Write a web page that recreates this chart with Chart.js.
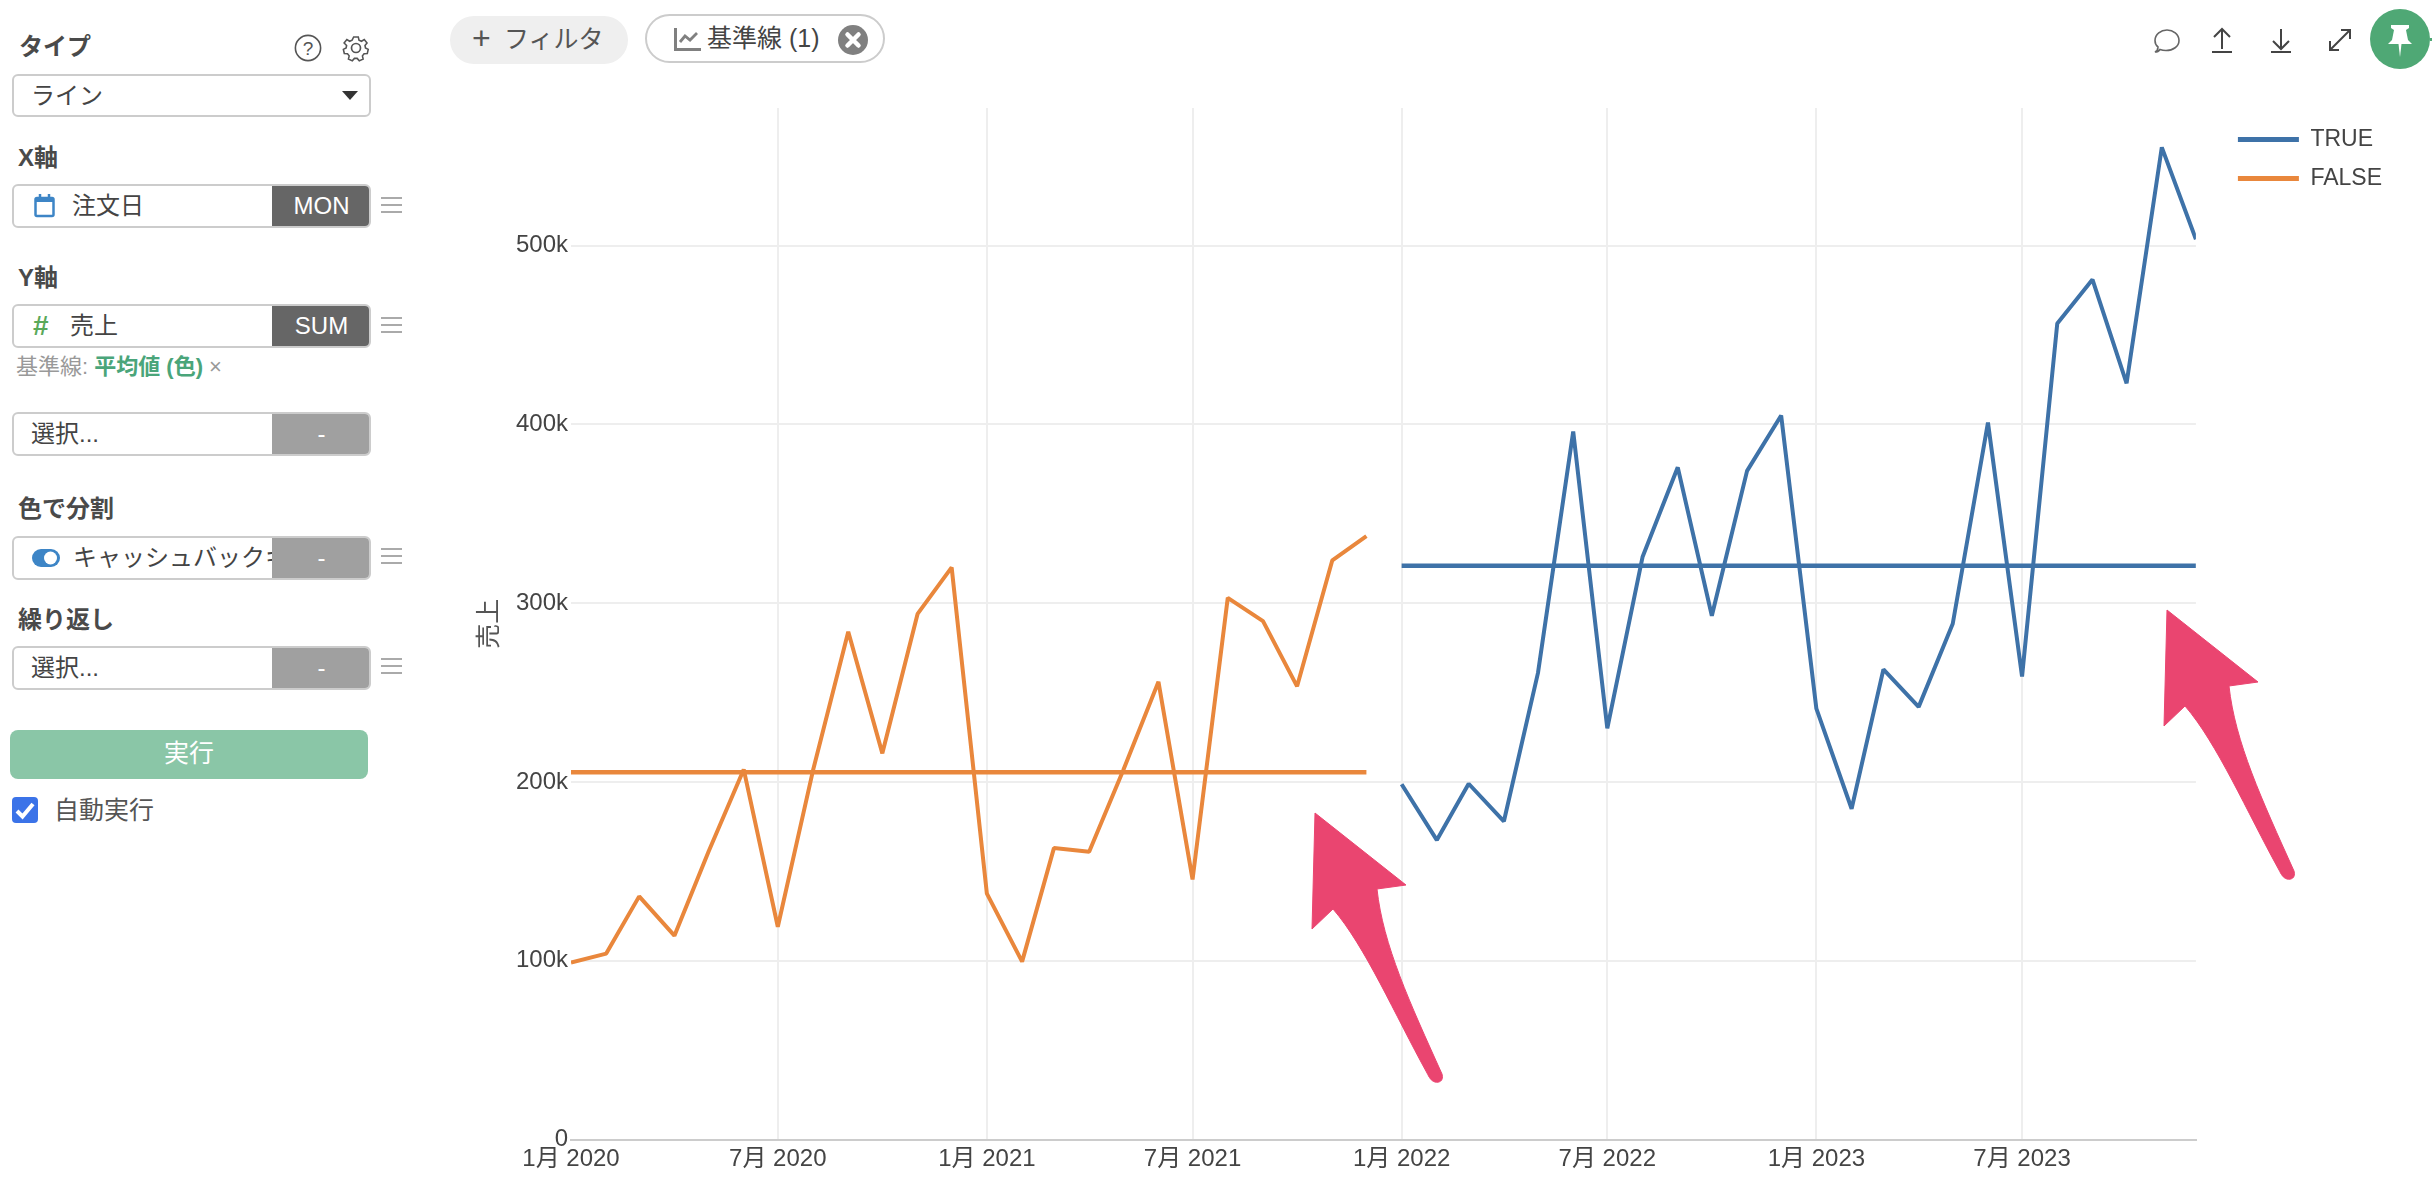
<!DOCTYPE html>
<html lang="ja">
<head>
<meta charset="UTF-8">
<script src="https://cdn.jsdelivr.net/npm/chart.js@4"></script>
<style>
  html, body { margin: 0; background: #fff; overflow: hidden; }
  body { width: 2432px; height: 1184px; position: relative; color: #444;
         font-family: "Liberation Sans", "Noto Sans CJK JP", sans-serif; }
  .abs, .lbl, .field, .lines, .pill { position: absolute; }
  .lbl { left: 18px; font-size: 24px; font-weight: bold; line-height: 30px; color: #4a4a4a; }
  .field { left: 12px; width: 355px; height: 40px; border: 2px solid #ccc; border-radius: 6px; background: #fff;
           font-size: 24px; line-height: 40px; overflow: hidden; }
  .field .name { position: absolute; top: 0; white-space: nowrap; }
  .field .tag { position: absolute; right: -2px; top: -2px; width: 99px; height: 44px; line-height: 44px;
                text-align: center; color: #fff; font-size: 24px; background: #666; }
  .field .tag.off { background: #a0a0a0; }
  .lines { left: 381px; width: 21px; height: 12px; border-top: 2px solid #aaa; border-bottom: 2px solid #aaa; }
  .lines::after { content: ""; position: absolute; left: 0; right: 0; top: 5px; height: 2px; background: #aaa; }
  .pill { box-sizing: border-box; border-radius: 25px; font-size: 25px; white-space: nowrap; }
  #chartBox { position: absolute; left: 460px; top: 90px; }
  svg.abs { overflow: visible; }
</style>
</head>
<body>

<!-- left panel -->
<div class="lbl" style="top:32px;left:19px">タイプ</div>
<svg class="abs" style="left:294px;top:34px" width="28" height="28" fill="none" stroke="#555" stroke-width="1.6"><circle cx="14" cy="14" r="12.6"/><text x="14" y="21" font-size="19" text-anchor="middle" fill="#555" stroke="none">?</text></svg>
<svg class="abs" style="left:342px;top:34px" width="28" height="28" fill="none" stroke="#555" stroke-width="1.7"><circle cx="14" cy="14" r="4.5"/><path d="M11.500 2h5l.8 3.500 2.700 1.200 3-1.800 3 3.700-2.200 2.700.5 2.700 3 1.500-1 4.500-3.500.3-1.800 2.300.8 3.400-4.200 2-2.300-2.700h-3l-2.300 2.700-4.200-2 .8-3.400-1.800-2.300-3.500-.3-1-4.500 3-1.500.5-2.700L1.100 8.600l3-3.700 3 1.800 2.700-1.200z" transform="translate(1.100 1.100) scale(.92)"/></svg>

<div class="field" style="top:74px;height:39px;line-height:39px"><span class="name" style="left:17px">ライン</span></div>
<svg class="abs" style="left:342px;top:91px" width="16" height="9"><path d="M0 0h16L8 9z" fill="#333"/></svg>

<div class="lbl" style="top:143px">X軸</div>
<div class="field" style="top:184px"><svg class="abs" style="left:20px;top:8px" width="21" height="24" fill="none" stroke="#3d85c6" stroke-width="2.500"><rect x="1.500" y="4" width="18" height="18" rx="1.500"/><path d="M1.500 6h18" stroke-width="4"/><path d="M6 0v4M15 0v4"/></svg><span class="name" style="left:58px">注文日</span><div class="tag">MON</div></div>
<div class="lines" style="top:197px"></div>

<div class="lbl" style="top:263px">Y軸</div>
<div class="field" style="top:304px"><span class="name" style="left:19px;color:#5aa95a;font-weight:bold;font-size:28px">#</span><span class="name" style="left:56px">売上</span><div class="tag">SUM</div></div>
<div class="lines" style="top:317px"></div>
<div class="abs" style="left:16px;top:352px;font-size:22px;line-height:30px;color:#999;white-space:nowrap">基準線: <b style="color:#4aa57a">平均値 (色)</b> ×</div>

<div class="field" style="top:412px"><span class="name" style="left:17px">選択...</span><div class="tag off">-</div></div>

<div class="lbl" style="top:494px">色で分割</div>
<div class="field" style="top:536px"><svg class="abs" style="left:18px;top:11px" width="28" height="18"><rect width="28" height="18" rx="9" fill="#3d85c6"/><circle cx="18.500" cy="9" r="6.500" fill="#fff"/></svg><span class="name" style="left:59px">キャッシュバックキャンペーン</span><div class="tag off">-</div></div>
<div class="lines" style="top:548px"></div>

<div class="lbl" style="top:605px">繰り返し</div>
<div class="field" style="top:646px"><span class="name" style="left:17px">選択...</span><div class="tag off">-</div></div>
<div class="lines" style="top:658px"></div>

<div class="abs" style="left:10px;top:730px;width:358px;height:49px;line-height:47px;background:#8ac6a7;border-radius:8px;color:#fff;text-align:center;font-size:25px">実行</div>
<svg class="abs" style="left:12px;top:797px" width="26" height="26"><rect width="26" height="26" rx="4" fill="#3b73e8"/><path d="M5 14l5.500 5.500L21 7" fill="none" stroke="#fff" stroke-width="4"/></svg>
<div class="abs" style="left:54px;top:795px;font-size:25px;line-height:30px;color:#555">自動実行</div>

<!-- top bar -->
<div class="pill" style="left:450px;top:16px;width:178px;height:48px;line-height:47px;background:#efefef;color:#555"><span class="abs" style="left:22px;top:-1px;font-size:32px">+</span><span class="abs" style="left:54px;top:0">フィルタ</span></div>
<div class="pill" style="left:645px;top:14px;width:240px;height:49px;line-height:45px;border:2px solid #ccc;padding-left:60px;color:#444">基準線 (1)</div>
<svg class="abs" style="left:674px;top:28px" width="27" height="23" fill="none" stroke="#808080" stroke-width="3"><path d="M1.500 0v21.500H27"/><path d="M6 14l5-6 5 4 7-7" stroke-width="2.800"/></svg>
<svg class="abs" style="left:838px;top:25px" width="30" height="30"><circle cx="15" cy="15" r="15" fill="#808080"/><path d="M9.500 9.500l11 11M20.500 9.500l-11 11" stroke="#fff" stroke-width="4.500" stroke-linecap="round"/></svg>

<!-- right toolbar -->
<svg class="abs" style="left:2152px;top:28px" width="30" height="26" fill="none" stroke="#666" stroke-width="1.600"><path d="M3 24c3 0 4-1 5-2.500 2 .7 4 1 6 1 7 0 13-4 13-10C27 6 21 2 15 2S3 6 3 12.500c0 3 1 5 3 6.500 0 2-1 4-3 5z"/></svg>
<svg class="abs" style="left:2212px;top:28px" width="20" height="26" fill="none" stroke="#444" stroke-width="2"><path d="M10 1v20M2 9l8-8 8 8M0 24h20"/></svg>
<svg class="abs" style="left:2271px;top:28px" width="20" height="26" fill="none" stroke="#444" stroke-width="2"><path d="M10 1v20M2 13l8 8 8-8M0 24h20"/></svg>
<svg class="abs" style="left:2328px;top:28px" width="24" height="24" fill="none" stroke="#444" stroke-width="2"><path d="M2 22L22 2M13 2h9v9M2 13v9h9"/></svg>
<svg class="abs" style="left:2370px;top:9px" width="62" height="60"><circle cx="30" cy="30" r="30" fill="#4fa875"/><path d="M21 16h18v3l-3 2 2 10 4 4H18l4-4 2-10-3-2z" fill="#fff"/><path d="M28.500 35h3l-1.500 13z" fill="#fff"/><rect x="60" y="29" width="2" height="3" fill="#4fa875"/></svg>

<!-- chart -->
<div id="chartBox"><canvas id="salesChart" width="1972" height="1094"></canvas></div>

<!-- hand drawn arrows on top of the chart -->
<svg class="abs" style="left:0;top:0" width="2432" height="1184">
  <defs>
    <path id="arrow" fill="#EA4570" stroke="#EA4570" stroke-width="1" d="M1315 813L1406 885L1377 889C1383 945 1410 1003 1442 1074C1444 1081 1439 1083 1435 1082C1431 1081 1429 1077 1427 1073C1395 1015 1365 946 1333 909L1312 929Z"/>
  </defs>
  <use href="#arrow"/>
  <use href="#arrow" x="852" y="-203"/>
</svg>

<script>
const seriesNames = ['TRUE', 'FALSE'];
const seriesColors = ['#3E72A8', '#E9873C'];
const monthsFalse = ['2020-01','2020-02','2020-03','2020-04','2020-05','2020-06','2020-07','2020-08','2020-09','2020-10','2020-11','2020-12',
                     '2021-01','2021-02','2021-03','2021-04','2021-05','2021-06','2021-07','2021-08','2021-09','2021-10','2021-11','2021-12'];
const monthsTrue = ['2022-01','2022-02','2022-03','2022-04','2022-05','2022-06','2022-07','2022-08','2022-09','2022-10','2022-11','2022-12',
                    '2023-01','2023-02','2023-03','2023-04','2023-05','2023-06','2023-07','2023-08','2023-09','2023-10','2023-11','2023-12'];
const salesFalse = [99000,104000,136000,114000,161000,207000,119000,206500,284000,216000,294000,320000,
                    137500,99500,163000,161000,206500,256000,145500,303000,290000,253500,324000,337500];
const salesTrue = [198700,167500,199000,178000,261000,396000,230000,325800,376000,293000,374000,405000,
                   241000,185000,263000,242000,288500,401000,259000,456500,481000,423000,555000,503600];
const averageFalse = 205500;
const averageTrue = 321000;
const xTickMonths = ['2020-01','2020-07','2021-01','2021-07','2022-01','2022-07','2023-01','2023-07'];
const yTicks = [0,100000,200000,300000,400000,500000];
const yMax = 577000;

const fontFamily = '"Liberation Sans", "Noto Sans CJK JP", sans-serif';
const toTime = m => Date.parse(m + '-01T00:00:00Z');
const points = (months, values) => months.map((m, i) => ({ x: toTime(m), y: values[i] }));
const flat = (months, v) => months.map(m => ({ x: toTime(m), y: v }));

// push the legend away from the plot, chart.js puts it flush
const legendNudge = {
  id: 'legendNudge',
  afterLayout(chart) {
    chart.legend.left += 26;
    chart.legend.right += 26;
    chart.legend.top += 4;
    chart.legend.bottom += 4;
  }
};

new Chart(document.getElementById('salesChart'), {
  type: 'line',
  plugins: [legendNudge],
  data: {
    datasets: [
      { label: seriesNames[0], data: points(monthsTrue, salesTrue), borderColor: seriesColors[0], borderWidth: 4, borderJoinStyle: 'bevel' },
      { label: seriesNames[1], data: points(monthsFalse, salesFalse), borderColor: seriesColors[1], borderWidth: 4, borderJoinStyle: 'bevel' },
      { label: 'avg TRUE', data: flat(monthsTrue, averageTrue), borderColor: seriesColors[0], borderWidth: 4.5 },
      { label: 'avg FALSE', data: flat(monthsFalse, averageFalse), borderColor: seriesColors[1], borderWidth: 4.5 }
    ]
  },
  options: {
    responsive: false,
    animation: false,
    devicePixelRatio: 1,
    elements: { point: { radius: 0 }, line: { tension: 0 } },
    layout: { padding: { top: 18, right: 66, bottom: 0, left: 0 } },
    plugins: {
      tooltip: { enabled: false },
      legend: {
        position: 'right',
        align: 'start',
        labels: {
          boxWidth: 61,
          boxHeight: 5,
          padding: 16,
          color: '#444',
          font: { family: fontFamily, size: 23 },
          generateLabels: () => seriesNames.map((n, i) => ({
            text: n, fillStyle: seriesColors[i], strokeStyle: seriesColors[i], fontColor: '#444', lineWidth: 0, datasetIndex: i
          }))
        }
      }
    },
    scales: {
      x: {
        type: 'linear',
        min: toTime(monthsFalse[0]),
        max: toTime(monthsTrue[monthsTrue.length - 1]),
        afterBuildTicks: axis => { axis.ticks = xTickMonths.map(m => ({ value: toTime(m) })); },
        afterFit: axis => { axis.height = 44.5; },
        border: { display: true, color: '#ccc', width: 2 },
        grid: { color: c => c.index === 0 ? 'transparent' : '#eee', lineWidth: 2, drawTicks: false },
        ticks: {
          autoSkip: false, maxRotation: 0, padding: 5, color: '#444',
          font: { family: fontFamily, size: 24 },
          callback: v => { const d = new Date(v); return (d.getUTCMonth() + 1) + '月 ' + d.getUTCFullYear(); }
        }
      },
      y: {
        min: 0,
        max: yMax,
        afterBuildTicks: axis => { axis.ticks = yTicks.map(v => ({ value: v })); },
        afterFit: axis => { axis.width = 111; },
        border: { display: false },
        grid: { color: '#eee', lineWidth: 2, drawTicks: false },
        title: { display: true, text: '売上', color: '#555', padding: { top: 15, bottom: 0 }, font: { family: fontFamily, size: 25 } },
        ticks: {
          padding: 3, color: '#444',
          font: { family: fontFamily, size: 24 },
          callback: v => v === 0 ? '0' : (v / 1000) + 'k'
        }
      }
    }
  }
});
</script>
</body>
</html>
